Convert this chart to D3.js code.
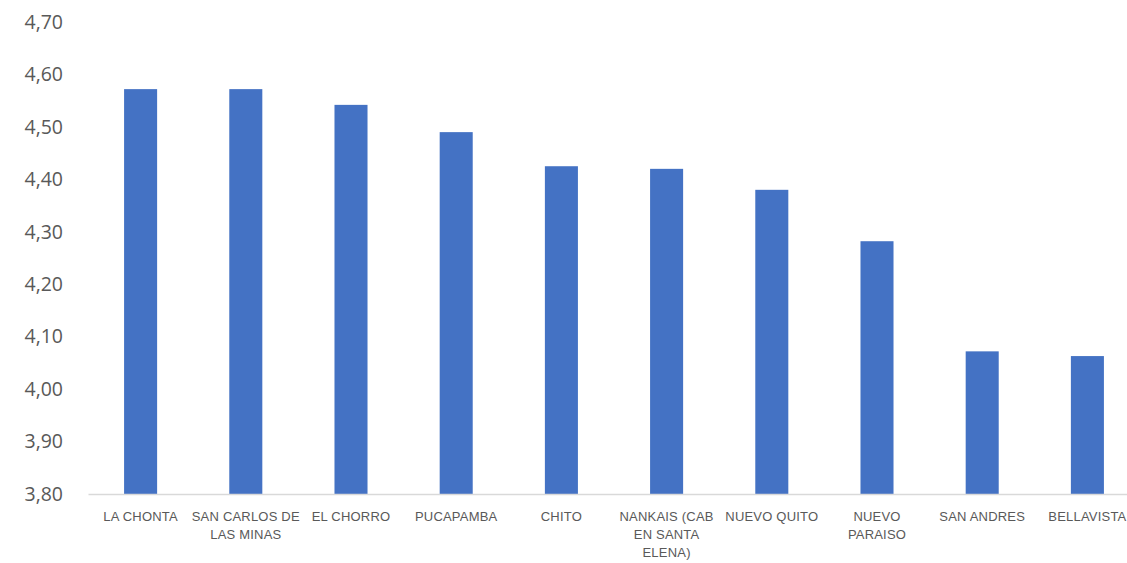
<!DOCTYPE html>
<html>
<head>
<meta charset="utf-8">
<script src="https://cdn.jsdelivr.net/npm/d3@7"></script>
<style>
  html, body { margin: 0; padding: 0; background: #fff; }
  svg { display: block; }
</style>
</head>
<body>
<svg id="chart" width="1127" height="563"></svg>
<script>
const categories = [
  "LA CHONTA",
  "SAN CARLOS DE LAS MINAS",
  "EL CHORRO",
  "PUCAPAMBA",
  "CHITO",
  "NANKAIS (CAB EN SANTA ELENA)",
  "NUEVO QUITO",
  "NUEVO PARAISO",
  "SAN ANDRES",
  "BELLAVISTA"
];
// how each category label wraps in the reference
const categoryLines = [
  ["LA CHONTA"],
  ["SAN CARLOS DE", "LAS MINAS"],
  ["EL CHORRO"],
  ["PUCAPAMBA"],
  ["CHITO"],
  ["NANKAIS (CAB", "EN SANTA", "ELENA)"],
  ["NUEVO QUITO"],
  ["NUEVO", "PARAISO"],
  ["SAN ANDRES"],
  ["BELLAVISTA"]
];
const values = [4.572, 4.572, 4.542, 4.49, 4.425, 4.42, 4.38, 4.282, 4.072, 4.063];
const yTicks = [3.8, 3.9, 4.0, 4.1, 4.2, 4.3, 4.4, 4.5, 4.6, 4.7];

const svg = d3.select("#chart");
const W = 1127, H = 563;
const m = { left: 88, right: -13, top: 22, bottom: 69 };

const x = d3.scaleBand()
  .domain(categories)
  .range([m.left, W - m.right])
  .paddingInner(0.686)
  .paddingOuter(0.343);

const y = d3.scaleLinear()
  .domain([3.8, 4.7])
  .range([H - m.bottom, m.top]);

const locale = d3.formatLocale({ decimal: ",", thousands: ".", grouping: [3], currency: ["", "€"] });
const fmt = locale.format(".2f");

// Y axis (labels only)
const yAxis = svg.append("g")
  .attr("transform", `translate(${m.left - 25},0)`)
  .call(d3.axisLeft(y).tickValues(yTicks).tickFormat(fmt).tickSize(0).tickPadding(0));
yAxis.select(".domain").remove();
yAxis.selectAll("text")
  .attr("fill", "#595959")
  .style("font-family", "'Open Sans', 'Liberation Sans', sans-serif")
  .style("font-size", "19.5px");

// Bars
svg.append("g").selectAll("rect")
  .data(values)
  .join("rect")
  .attr("x", (d, i) => x(categories[i]))
  .attr("width", x.bandwidth())
  .attr("y", d => y(d))
  .attr("height", d => y(3.8) - y(d))
  .attr("fill", "#4472c4");

// X axis
const xAxis = svg.append("g")
  .attr("transform", `translate(0,${y(3.8)})`)
  .call(d3.axisBottom(x).tickSize(0).tickPadding(0).tickFormat(""));
xAxis.select(".domain")
  .attr("stroke", "#d9d9d9")
  .attr("stroke-width", 1.5);

const labelG = svg.append("g")
  .style("font-family", "'Liberation Sans', sans-serif")
  .style("font-size", "13px")
  .style("letter-spacing", "0.2px")
  .attr("fill", "#595959");

categories.forEach((cat, i) => {
  const cx = x(cat) + x.bandwidth() / 2;
  labelG.append("text")
    .attr("text-anchor", "middle")
    .attr("x", cx)
    .attr("y", y(3.8) + 27)
    .selectAll("tspan")
    .data(categoryLines[i])
    .join("tspan")
    .attr("x", cx)
    .attr("dy", (d, j) => j === 0 ? 0 : 18)
    .text(d => d);
});
</script>
</body>
</html>
